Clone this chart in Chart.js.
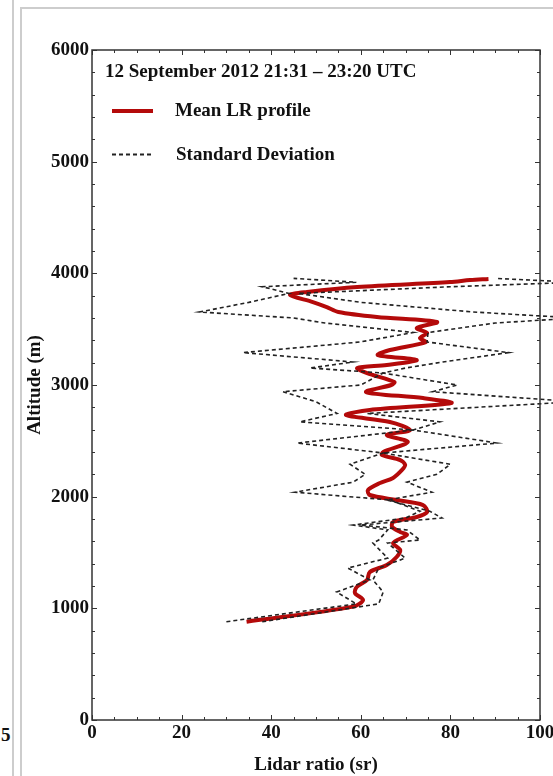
<!DOCTYPE html>
<html><head><meta charset="utf-8">
<script src="https://cdn.jsdelivr.net/npm/chart.js@4.4.1/dist/chart.umd.min.js"></script>
<style>
html,body{margin:0;padding:0;background:#fff;overflow:hidden;}
#wrap{position:relative;width:553px;height:776px;}
canvas{position:absolute;left:0;top:0;}
.g{position:absolute;background:#cdcdcd;}
#five{position:absolute;left:1px;top:724px;font:bold 19px 'Liberation Serif','Times New Roman',serif;color:#111;}
</style></head>
<body>
<div id="wrap">
<div class="g" style="left:12px;top:0;width:2px;height:776px"></div>
<div class="g" style="left:20px;top:7px;width:2px;height:769px"></div>
<div class="g" style="left:20px;top:7px;width:533px;height:2px"></div>
<span id="five">5</span>
<canvas id="c" width="553" height="776"></canvas>
</div>
<script>
// ---- data ----
const altMean = [880, 1015, 1075, 1137, 1191, 1254, 1325, 1388, 1460, 1522, 1585, 1657, 1684, 1728, 1773, 1818, 1863, 1925, 1970, 2015, 2060, 2122, 2167, 2239, 2284, 2328, 2373, 2400, 2490, 2552, 2597, 2669, 2731, 2776, 2839, 2883, 2937, 3000, 3027, 3107, 3152, 3179, 3224, 3268, 3313, 3384, 3421, 3466, 3510, 3564, 3609, 3654, 3698, 3743, 3806, 3833, 3878, 3922, 3940, 3950];
const lrMean  = [34.5, 58.3, 60.5, 58.7, 59.1, 61.4, 62, 65.8, 68, 68.8, 67.2, 70.3, 68.8, 67, 67.2, 72.5, 74.8, 73.9, 68, 62, 61.6, 64.3, 67.2, 69.2, 69.9, 68.8, 64.7, 65, 70.5, 65.8, 71, 66.5, 56.7, 62, 80.2, 73.9, 61.2, 66.8, 67.5, 61.4, 59.2, 65.8, 72.5, 63.8, 66.5, 74.5, 73.2, 74.8, 72.5, 77, 63.6, 55, 52.4, 49.3, 44.2, 48, 59.2, 79.9, 84.4, 88.5];

const altSd    = [880, 1040, 1146, 1254, 1361, 1450, 1585, 1612, 1702, 1746, 1809, 1870, 1970, 2040, 2130, 2200, 2290, 2391, 2480, 2597, 2670, 2745, 2850, 2940, 3000, 3107, 3152, 3206, 3290, 3385, 3470, 3555, 3600, 3654, 3740, 3820, 3880, 3920, 3955];
const lrSdLow  = [30, 59, 54.6, 62, 57.1, 66, 62.7, 64, 66, 58.3, 70, 73.2, 66.5, 45.3, 58.3, 61, 57.6, 65, 45.8, 71.7, 46.4, 54.7, 50, 42.6, 60, 65, 48.7, 58.3, 33.7, 59.8, 71.7, 52, 45, 24, 35, 44, 38, 59, 45];
const lrSdHigh = [38, 64, 65, 62.7, 64, 69.9, 66, 73.2, 70.3, 60, 78.1, 75.4, 65.8, 75.9, 70.3, 77, 80, 65, 90.4, 71.7, 77.7, 61.4, 108, 76, 81.5, 65, 70, 78.3, 93, 74.8, 75, 90, 108, 85, 60, 46, 80, 108, 90];

const xTickValues = [0, 20, 40, 60, 80, 100];
const yTickValues = [0, 1000, 2000, 3000, 4000, 5000, 6000];
const chartTitle = '12 September 2012 21:31 \u2013 23:20 UTC';
const seriesNames = ['Mean LR profile', 'Standard Deviation'];
const xAxisTitle = 'Lidar ratio (sr)';
const yAxisTitle = 'Altitude (m)';

// ---- styling ----
const FONT = "'Liberation Serif','Times New Roman',serif";
const RED = '#b40a0a';
const DASH = '#222';
const pts = (xs, ys) => xs.map((x, i) => ({x: x, y: ys[i]}));

const decor = {
  id: 'decor',
  afterDraw(chart) {
    const ctx = chart.ctx, a = chart.chartArea, sx = chart.scales.x, sy = chart.scales.y;
    ctx.save();
    // inward ticks
    ctx.strokeStyle = '#333';
    ctx.lineWidth = 1;
    ctx.beginPath();
    for (let v = sx.min; v <= sx.max + 1e-9; v += 5) {
      const px = Math.round(sx.getPixelForValue(v)) + 0.5;
      const len = (v % 20 === 0) ? 5 : 3;
      ctx.moveTo(px, a.bottom); ctx.lineTo(px, a.bottom - len);
      ctx.moveTo(px, a.top); ctx.lineTo(px, a.top + len);
    }
    for (let v = sy.min; v <= sy.max + 1e-9; v += 200) {
      const py = Math.round(sy.getPixelForValue(v)) + 0.5;
      const len = (v % 1000 === 0) ? 5 : 3;
      ctx.moveTo(a.left, py); ctx.lineTo(a.left + len, py);
      ctx.moveTo(a.right, py); ctx.lineTo(a.right - len, py);
    }
    ctx.stroke();
    // frame
    ctx.lineWidth = 1.5;
    ctx.strokeStyle = '#333';
    ctx.strokeRect(a.left, a.top, a.right - a.left, a.bottom - a.top);
    // title + legend
    ctx.fillStyle = '#111';
    ctx.font = 'bold 19px ' + FONT;
    ctx.textBaseline = 'alphabetic';
    ctx.textAlign = 'left';
    ctx.fillText(chartTitle, 105, 77);
    ctx.fillText(seriesNames[0], 175, 116);
    ctx.fillText(seriesNames[1], 176, 160);
    ctx.strokeStyle = RED; ctx.lineWidth = 4;
    ctx.beginPath(); ctx.moveTo(112, 111); ctx.lineTo(153, 111); ctx.stroke();
    ctx.strokeStyle = DASH; ctx.lineWidth = 2; ctx.setLineDash([4, 3]);
    ctx.beginPath(); ctx.moveTo(112, 154.5); ctx.lineTo(153, 154.5); ctx.stroke();
    ctx.restore();
  }
};

const tickFont = {family: FONT, size: 19, weight: 'bold'};

new Chart(document.getElementById('c'), {
  type: 'scatter',
  data: {
    datasets: [
      {label: seriesNames[1], data: pts(lrSdLow, altSd), showLine: true, pointRadius: 0,
       borderColor: DASH, borderWidth: 1.6, borderDash: [4, 3], tension: 0, clip: false},
      {label: seriesNames[1], data: pts(lrSdHigh, altSd), showLine: true, pointRadius: 0,
       borderColor: DASH, borderWidth: 1.6, borderDash: [4, 3], tension: 0, clip: false},
      {label: seriesNames[0], data: pts(lrMean, altMean), showLine: true, pointRadius: 0,
       borderColor: RED, borderWidth: 4, tension: 0.3, clip: false}
    ]
  },
  options: {
    responsive: false,
    animation: false,
    devicePixelRatio: 1,
    layout: {padding: {left: 0, right: 13, top: 50, bottom: 0}},
    plugins: {legend: {display: false}, tooltip: {enabled: false}},
    scales: {
      x: {
        type: 'linear', min: 0, max: 100,
        grid: {display: false, drawTicks: false},
        border: {display: false},
        afterBuildTicks: s => { s.ticks = xTickValues.map(v => ({value: v})); },
        afterFit: s => { s.height = 56; s.paddingLeft = 0; s.paddingRight = 0; },
        ticks: {font: tickFont, color: '#111', padding: 2, maxRotation: 0, autoSkip: false,
                callback: v => String(v)},
        title: {display: true, text: xAxisTitle, font: tickFont, color: '#111', padding: {top: 0, bottom: 0}}
      },
      y: {
        type: 'linear', min: 0, max: 6000,
        grid: {display: false, drawTicks: false},
        border: {display: false},
        afterBuildTicks: s => { s.ticks = yTickValues.map(v => ({value: v})); },
        afterFit: s => { s.width = 92; s.paddingTop = 0; s.paddingBottom = 0; },
        ticks: {font: tickFont, color: '#111', padding: 3, autoSkip: false,
                callback: v => String(v)},
        title: {display: true, text: yAxisTitle, font: tickFont, color: '#111', padding: {top: 24, bottom: 0}}
      }
    }
  },
  plugins: [decor]
});
</script>
</body></html>
